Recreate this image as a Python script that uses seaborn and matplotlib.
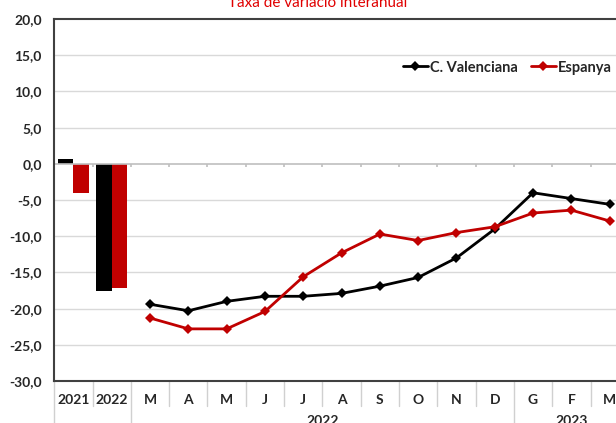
import numpy as np
import pandas as pd
import matplotlib.pyplot as plt
import seaborn as sns

# Data
series = ["C. Valenciana", "Espanya"]
year_labels = ["2021", "2022"]
year_cv = [0.6, -17.6]
year_es = [-4.1, -17.1]

month_labels = ["M", "A", "M", "J", "J", "A", "S", "O", "N", "D", "G", "F", "M"]
month_cv = [-19.4, -20.3, -19.0, -18.3, -18.3, -17.9, -16.9, -15.7, -13.0, -9.0, -4.0, -4.8, -5.6]
month_es = [-21.3, -22.8, -22.8, -20.4, -15.6, -12.3, -9.7, -10.6, -9.5, -8.7, -6.8, -6.4, -7.9]

groups = ["2022", "2023"]
group_spans = [(2, 11), (12, 14)]

colors = {"C. Valenciana": "#000000", "Espanya": "#C00000"}

sns.set_theme(style="white")
plt.rcParams["font.family"] = ["Lato", "DejaVu Sans"]

bars = pd.DataFrame({
    "cat": year_labels * 2,
    "val": year_cv + year_es,
    "serie": [series[0]] * 2 + [series[1]] * 2,
})
n_years = len(year_labels)
pos = list(range(n_years, n_years + len(month_labels)))
lines = pd.DataFrame({
    "pos": pos * 2,
    "val": month_cv + month_es,
    "serie": [series[0]] * len(pos) + [series[1]] * len(pos),
})

fig = plt.figure(figsize=(6.16, 4.23), dpi=100)
ax = fig.add_axes([54.3 / 616, 42 / 423, 574.5 / 616, 362 / 423])

sns.barplot(data=bars, x="cat", y="val", hue="serie", palette=colors,
            order=year_labels, width=0.81, gap=0, legend=False, ax=ax,
            saturation=1, edgecolor="none")
sns.lineplot(data=lines, x="pos", y="val", hue="serie", palette=colors,
             marker="D", markersize=5.5, markeredgewidth=0, linewidth=2,
             ax=ax)

all_labels = year_labels + month_labels
ncat = len(all_labels)
ax.set_xlim(-0.5, ncat - 0.5)
ax.set_ylim(-30, 20)
ax.set_yticks(np.arange(-30, 21, 5))
ax.set_yticklabels([f"{v:.1f}".replace(".", ",") for v in np.arange(-30, 21, 5)],
                   fontsize=10, fontweight="bold", color="#262626")
ax.set_xticks(range(ncat))
ax.set_xticklabels(all_labels, fontsize=10, fontweight="bold", color="#262626")
ax.tick_params(axis="both", length=0)
ax.tick_params(axis="y", pad=9)
ax.tick_params(axis="x", pad=9)
ax.set_xlabel("")
ax.set_ylabel("")

for v in np.arange(-25, 20, 5):
    if v != 0:
        ax.axhline(v, color="#D9D9D9", lw=1, zorder=0)
ax.axhline(0, color="#BFBFBF", lw=1.2, zorder=1)
bounds = np.arange(0.5, ncat - 0.5, 1)
ax.vlines(bounds, -0.45, 0, color="#BFBFBF", lw=1.2, zorder=1)

for side in ["left", "top", "bottom", "right"]:
    ax.spines[side].set_color("#404040")
    ax.spines[side].set_linewidth(1.5)

# category table below the axis
trans = ax.get_xaxis_transform()
long_b = [-0.5, n_years - 0.5] + [s - 0.5 for s, e in group_spans[1:]]
for b in np.arange(-0.5, ncat - 0.5, 1):
    bottom = -0.2 if b in long_b else -0.07
    ax.plot([b, b], [0, bottom], color="#D0D0D0", lw=1, transform=trans,
            clip_on=False)
for g, (s, e) in zip(groups, group_spans):
    ax.text((s + e) / 2, -0.095, g, transform=trans, ha="center", va="top",
            fontsize=10, fontweight="bold", color="#262626")

h, l = ax.get_legend_handles_labels()
ax.legend(h, l, loc="center right", bbox_to_anchor=(0.97, 0.866), ncol=2,
          frameon=False, prop={"weight": "bold", "size": 10.5},
          handlelength=1.7, handletextpad=0.15, columnspacing=0.9,
          borderaxespad=0, borderpad=0)

fig.text(0.515, 1 - 7 / 423, "Taxa de variació interanual", ha="center",
         va="baseline", fontsize=11, color="#E00000")

fig.savefig("out.png", dpi=100)
